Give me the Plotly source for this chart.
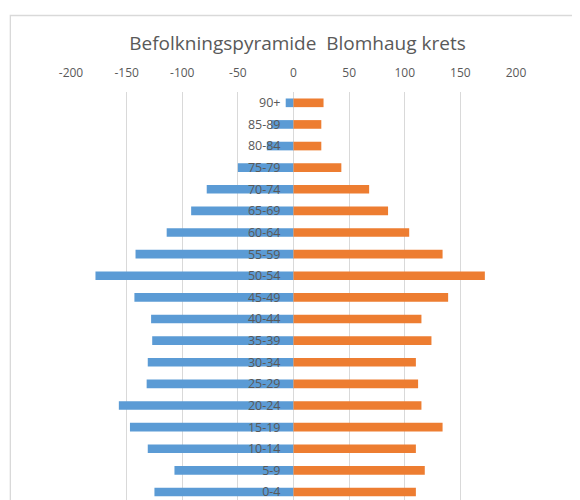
import plotly.graph_objects as go

categories = ["0-4", "5-9", "10-14", "15-19", "20-24", "25-29", "30-34", "35-39",
              "40-44", "45-49", "50-54", "55-59", "60-64", "65-69", "70-74",
              "75-79", "80-84", "85-89", "90+"]
men = [-125, -107, -131, -147, -157, -132, -131, -127, -128, -143, -178, -142,
       -114, -92, -78, -50, -24, -20, -7]
women = [110, 118, 110, 134, 115, 112, 110, 124, 115, 139, 172, 134, 104, 85,
         68, 43, 25, 25, 27]
x_ticks = [-200, -150, -100, -50, 0, 50, 100, 150, 200]

OFF = 8  # page body margin offset
W, H = 580 - OFF, 500 - OFF
L = 70.7 - OFF
T = 92 - OFF
R = W - (516 - OFF)
B = 0
pw = W - L - R
ph = H - T - B

fig = go.Figure()
fig.add_trace(go.Bar(y=categories, x=men, orientation="h", name="Menn",
                     marker=dict(color="#5B9BD5", line=dict(width=0))))
fig.add_trace(go.Bar(y=categories, x=women, orientation="h", name="Kvinner",
                     marker=dict(color="#ED7D31", line=dict(width=0))))

# outer chart border (partially cropped like in the reference)
fig.add_shape(type="rect", xref="paper", yref="paper",
              x0=(10 - OFF - L) / pw, x1=1.6, y0=-0.5, y1=1 + (T - (15.5 - OFF)) / ph,
              line=dict(color="#D9D9D9", width=1.3), fillcolor="rgba(0,0,0,0)",
              layer="below")

fig.update_layout(
    width=W, height=H,
    margin=dict(l=L, r=R, t=T, b=B, autoexpand=False),
    paper_bgcolor="white", plot_bgcolor="white",
    barmode="relative", bargap=0.6,
    showlegend=False,
    font=dict(family="Open Sans, Liberation Sans, sans-serif", color="#595959"),
    title=dict(text="Befolkningspyramide  Blomhaug krets",
               x=(297.5 - OFF) / W, xanchor="center", y=1 - (43.5 - OFF) / H,
               yanchor="middle",
               font=dict(size=19, color="#595959",
                         family="Open Sans, Liberation Sans, sans-serif")),
    xaxis=dict(range=[-200, 200], side="top", tickvals=x_ticks,
               ticktext=[str(v) for v in x_ticks],
               showgrid=True, gridcolor="#D9D9D9", gridwidth=1.3,
               zeroline=True, zerolinecolor="#D9D9D9", zerolinewidth=1.3,
               showline=False, ticks="", ticklabelstandoff=12,
               tickfont=dict(size=12, color="#595959")),
    yaxis=dict(range=[-0.37, 18.5], categoryorder="array", categoryarray=categories,
               anchor="free", position=0.5, showgrid=False, zeroline=False,
               showline=False, ticks="", ticklabelstandoff=13,
               tickfont=dict(size=12.5, color="#595959")),
)

fig.write_html("out.html")
